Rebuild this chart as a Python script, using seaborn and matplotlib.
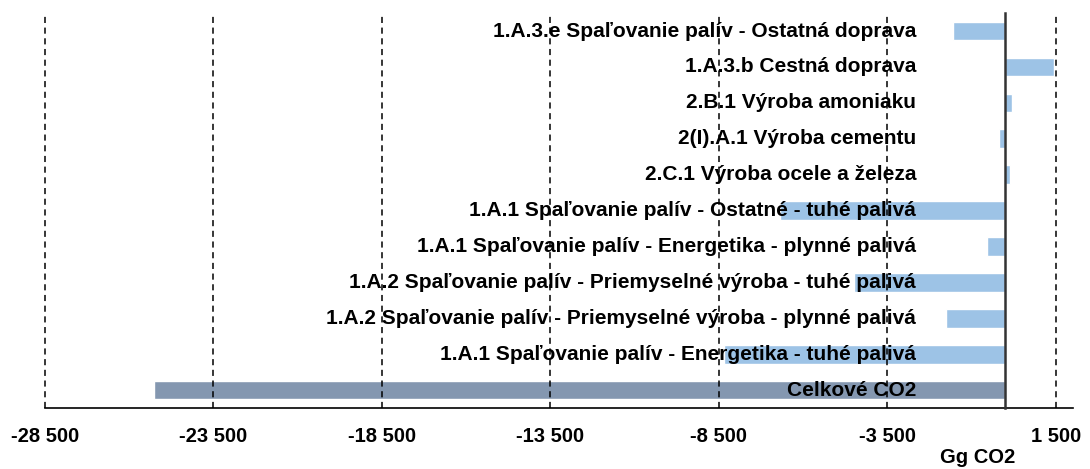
import numpy as np
import pandas as pd
import matplotlib
matplotlib.use("Agg")
import matplotlib.pyplot as plt
import seaborn as sns

categories = [
    "1.A.3.e Spaľovanie palív - Ostatná doprava",
    "1.A.3.b Cestná doprava",
    "2.B.1 Výroba amoniaku",
    "2(I).A.1 Výroba cementu",
    "2.C.1 Výroba ocele a železa",
    "1.A.1 Spaľovanie palív - Ostatné - tuhé palivá",
    "1.A.1 Spaľovanie palív - Energetika - plynné palivá",
    "1.A.2 Spaľovanie palív - Priemyselné výroba - tuhé palivá",
    "1.A.2 Spaľovanie palív - Priemyselné výroba - plynné palivá",
    "1.A.1 Spaľovanie palív - Energetika - tuhé palivá",
    "Celkové CO2",
]
values = [-1540, 1450, 190, -180, 130, -6670, -530, -4500, -1750, -8360, -25270]
bar_colors = ["#9DC3E6"] * 10 + ["#8497B0"]
xticks = [-28500, -23500, -18500, -13500, -8500, -3500, 1500]
xtick_labels = ["-28 500", "-23 500", "-18 500", "-13 500", "-8 500", "-3 500", "1 500"]

sns.set_style("white")
plt.rcParams["font.family"] = ["Liberation Sans", "DejaVu Sans"]

df = pd.DataFrame({"cat": categories, "val": values})

fig = plt.figure(figsize=(10.9, 4.69), dpi=100)
ax = fig.add_axes([0.0413, 0.130, 0.9427, 0.842])
sns.barplot(data=df, x="val", y="cat", hue="cat", palette=bar_colors,
            legend=False, width=0.52, saturation=1, ax=ax)

ax.set_xlim(-28500, 2000)
ax.set_ylim(len(categories) - 0.5, -0.5)

# category names drawn inside the plot, right aligned left of zero
for i, name in enumerate(categories):
    ax.text(-2640, i, name, ha="right", va="center", fontsize=15,
            fontweight="bold", color="black", zorder=5)

ax.set_xticks(xticks)
ax.set_xticklabels(xtick_labels, fontsize=14.5, fontweight="bold", color="black")
ax.tick_params(axis="x", direction="out", length=5, width=1.2, pad=9, color="black")

ax.set_yticks(np.arange(-0.5, len(categories), 1.0))
ax.set_yticklabels([])
ax.tick_params(axis="y", direction="in", length=3, width=0.8, color="#333333")

ax.set_axisbelow(False)
ax.grid(axis="x", color="black", linestyle=(0, (4, 3)), linewidth=1.1)
ax.grid(axis="y", visible=False)
for gl in ax.get_xgridlines():
    gl.set_clip_on(False)

ax.spines["left"].set_position(("data", 0))
ax.spines["left"].set_linewidth(1.8)
ax.spines["left"].set_color("#333333")
ax.spines["left"].set_zorder(4)
ax.spines["bottom"].set_linewidth(1.2)
ax.spines["bottom"].set_color("black")
ax.spines["top"].set_visible(False)
ax.spines["right"].set_visible(False)

ax.set_ylabel("")
ax.set_xlabel("")
fig.text(0.897, 0.024, "Gg CO2", ha="center", va="center", fontsize=14.5,
         fontweight="bold", color="black")

fig.savefig("out.png", dpi=100)
